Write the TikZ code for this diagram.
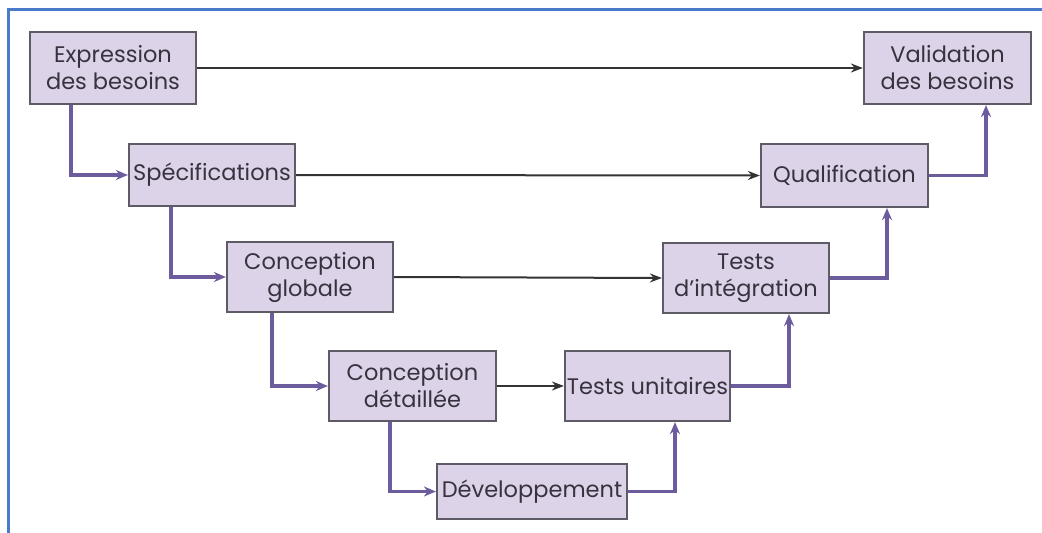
\documentclass[tikz,border=0pt]{standalone}
\usepackage{fontspec}
\setmainfont{Poppins}
\usetikzlibrary{arrows.meta}
\definecolor{boxfill}{HTML}{DCD3E8}
\definecolor{boxline}{HTML}{5E5A66}
\definecolor{purp}{HTML}{6C5C9E}
\definecolor{frameblue}{HTML}{4A7ACC}
\definecolor{txt}{HTML}{38323F}
\tikzset{
  stepbox/.style={draw=boxline, line width=2.2pt, fill=boxfill, inner sep=0pt,
    align=center, text=txt, font=\fontsize{22.5}{27}\selectfont},
  purpline/.style={draw=purp, line width=3.2pt, -{Stealth[length=12pt,width=10pt]}},
  blackline/.style={draw=black!80, line width=2pt, -{Stealth[length=12pt,width=9pt]}}
}
\begin{document}
\begin{tikzpicture}[x=1pt,y=-1pt]
\useasboundingbox (0,0) rectangle (1042,533);
\draw[frameblue, line width=3pt] (1042,9) -- (8,9) -- (8,533);
\node[stepbox, minimum width=166pt, minimum height=72pt] (exp) at (113,68) {Expression\\des besoins};
\node[stepbox, minimum width=166pt, minimum height=62pt] (spec) at (212,175) {Spécifications};
\node[stepbox, minimum width=167pt, minimum height=72pt] (val) at (947.5,68) {Validation\\des besoins};
\node[stepbox, minimum width=167pt, minimum height=63pt] (qual) at (844.5,175.5) {Qualification};
\node[stepbox, minimum width=166pt, minimum height=70pt] (cglob) at (310,277) {Conception\\globale};
\node[stepbox, minimum width=167pt, minimum height=70pt] (cdet) at (412.5,386) {Conception\\détaillée};
\node[stepbox, minimum width=165pt, minimum height=70pt] (tu) at (647.5,386) {Tests unitaires};
\node[stepbox, minimum width=190pt, minimum height=55pt] (dev) at (532,491.5) {Développement};
\node[stepbox, minimum width=166pt, minimum height=70pt] (ti) at (746,278) {Tests\\d’intégration};
% black horizontal arrows
\draw[blackline] (exp.east) -- (val.west);
\draw[blackline] (spec.east) -- (qual.west);
\draw[blackline] (cglob.east) -- (ti.west);
\draw[blackline] (cdet.east) -- (tu.west);
% purple descending / ascending
\draw[purpline] ([xshift=-42pt]exp.south) |- (spec.west);
\draw[purpline] ([xshift=-41pt]spec.south) |- (cglob.west);
\draw[purpline] ([xshift=-38pt]cglob.south) |- (cdet.west);
\draw[purpline] ([xshift=-22.5pt]cdet.south) |- (dev.west);
\draw[purpline] (dev.east) -| ([xshift=27.5pt]tu.south);
\draw[purpline] (tu.east) -| ([xshift=43pt]ti.south);
\draw[purpline] (ti.east) -| ([xshift=42.5pt]qual.south);
\draw[purpline] (qual.east) -| ([xshift=38.5pt]val.south);
\end{tikzpicture}
\end{document}
